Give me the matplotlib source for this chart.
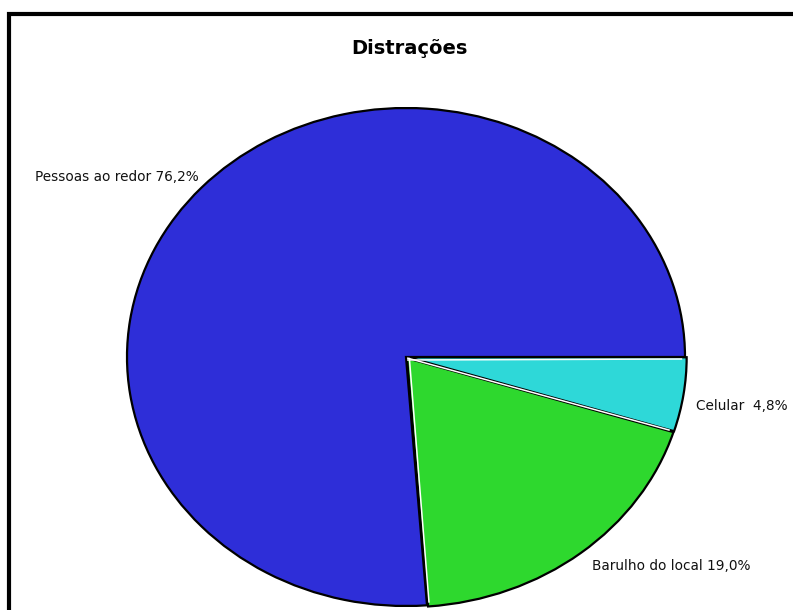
import numpy as np
import matplotlib.pyplot as plt
from matplotlib.patches import Rectangle

# distraction categories and their share (%)
labels = ["Pessoas ao redor", "Barulho do local", "Celular "]
values = [76.2, 19.0, 4.8]
colors = ["#2e2ed8", "#2ed82e", "#2ed8d8"]
explode = [0.0, 0.006, 0.006]

# drawing order: clockwise from 3 o'clock, smallest slice first
order = [2, 1, 0]
vals = [values[i] for i in order]
cols = [colors[i] for i in order]
texts = [labels[i] + " " + ("%.1f%%" % values[i]).replace(".", ",") for i in order]
expl = [explode[i] for i in order]

fig = plt.figure(figsize=(7.93, 6.10), dpi=100)
ax = fig.add_axes([127 / 793, 4 / 610, 558 / 793, 498 / 610])

wedges, lbls = ax.pie(vals, colors=cols, labels=texts, startangle=0,
                      counterclock=False, explode=expl, labeldistance=1.04,
                      wedgeprops=dict(edgecolor="black", linewidth=1.6),
                      textprops=dict(fontsize=9.8, color="#111111"))
ax.set_aspect("auto")
ax.set_xlim(-1, 1)
ax.set_ylim(-1, 1)

# light seams along the edges of the small slices (offset into those slices)
bounds = -np.cumsum([0] + vals) / 100 * 360
for b, d in zip(bounds, [0.008, 0.0, -0.008]):
    a = np.deg2rad(b)
    nx, ny = np.sin(a) * d, -np.cos(a) * d
    ax.plot([0.004 + nx, np.cos(a) * 0.99 + nx],
            [-0.004 + ny, np.sin(a) * 0.99 + ny],
            color="white", lw=1.1, solid_capstyle="butt")

lbls[0].set_position((1.039, -0.197))
lbls[1].set_position((0.667, -0.839))
lbls[2].set_position((-0.742, 0.723))
for t in lbls:
    t.set_va("center")

fig.text(409 / 793, 1 - 54 / 610, "Distrações", ha="center", va="baseline",
         fontsize=14, fontweight="bold")

fig.patches.append(Rectangle((9 / 793, -0.05), 1.0, 1 - 14 / 610 + 0.05,
                             transform=fig.transFigure, fill=False,
                             edgecolor="black", linewidth=3))

fig.savefig("out.png", dpi=100)
